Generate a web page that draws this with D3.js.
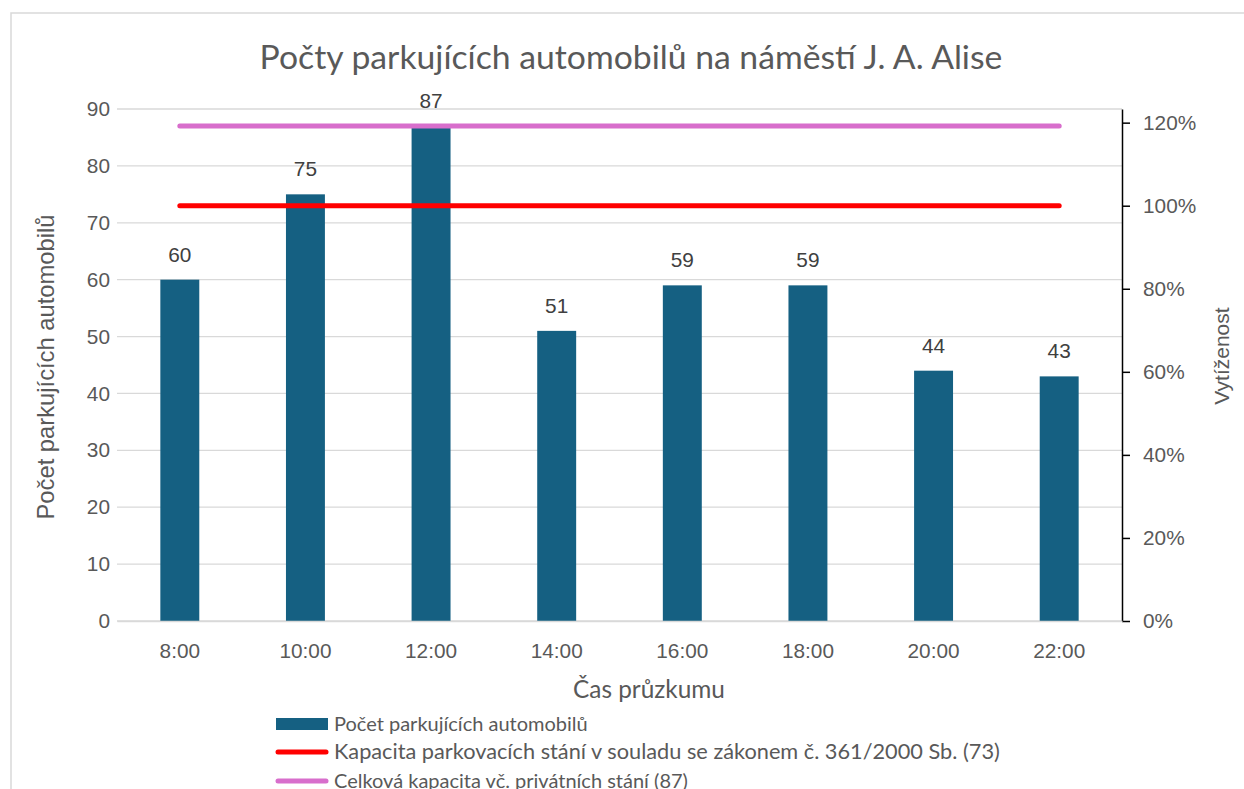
<!DOCTYPE html>
<html><head><meta charset="utf-8">
<script src="https://cdn.jsdelivr.net/npm/d3@7"></script>
<style>html,body{margin:0;padding:0;background:#fff;} svg{display:block;}</style>
</head><body>
<svg id="c" width="1244" height="789"></svg>
<script>
const categories = ["8:00","10:00","12:00","14:00","16:00","18:00","20:00","22:00"];
const counts = [60,75,87,51,59,59,44,43];
const legalCapacity = 73;
const totalCapacity = 87;
const leftTicks = [0,10,20,30,40,50,60,70,80,90];
const rightTicks = [0,0.2,0.4,0.6,0.8,1.0,1.2];
const title = "Počty parkujících automobilů na náměstí J. A. Alise";
const xTitle = "Čas průzkumu";
const yTitle = "Počet parkujících automobilů";
const y2Title = "Vytíženost";
const legendItems = [
  {label:"Počet parkujících automobilů", type:"bar"},
  {label:"Kapacita parkovacích stání v souladu se zákonem č. 361/2000 Sb. (73)", type:"legal"},
  {label:"Celková kapacita vč. privátních stání (87)", type:"total"}
];

const C = {bar:"#156082", legal:"#FF0000", total:"#D86ECC", text:"#595959", label:"#404040", grid:"#D9D9D9"};
const svg = d3.select("#c");
const L=117, R=1122, T=109, B=621;
const narrow = "Lato, 'Open Sans', sans-serif";
const arial = "'Liberation Sans', Arial, sans-serif";
const fs = "20.8px";

// chart frame
svg.append("rect").attr("x",11).attr("y",13).attr("width",1250).attr("height",800)
  .attr("fill","none").attr("stroke","#D9D9D9").attr("stroke-width",1.5);

const x = d3.scaleBand().domain(categories).range([L,R]).paddingInner(0.69).paddingOuter(0.345);
const y = d3.scaleLinear().domain([0,90]).range([B,T]);
const y2 = d3.scaleLinear().domain([0,90/legalCapacity]).range([B,T]);

// gridlines
svg.append("g").selectAll("line").data(leftTicks).join("line")
  .attr("x1",L).attr("x2",R).attr("y1",d=>y(d)).attr("y2",d=>y(d))
  .attr("stroke",C.grid).attr("stroke-width",1.3);

// left axis
const gl = svg.append("g").attr("transform",`translate(${L},0)`)
  .call(d3.axisLeft(y).tickValues(leftTicks).tickSize(0).tickPadding(7));
gl.select(".domain").remove();
gl.selectAll("text").attr("fill",C.text).style("font-family",arial).style("font-size",fs);

// right axis
const gr = svg.append("g").attr("transform",`translate(${R},0)`)
  .call(d3.axisRight(y2).tickValues(rightTicks).tickFormat(d3.format(".0%")).tickSize(8).tickSizeOuter(0).tickPadding(13));
gr.select(".domain").attr("stroke","#000").attr("stroke-width",1.5);
gr.selectAll("line").attr("stroke","#000").attr("stroke-width",1.5);
gr.selectAll("text").attr("fill",C.text).style("font-family",arial).style("font-size",fs);

// bars
svg.append("g").selectAll("rect").data(counts).join("rect")
  .attr("x",(d,i)=>x(categories[i])).attr("width",x.bandwidth())
  .attr("y",d=>y(d)).attr("height",d=>y(0)-y(d)).attr("fill",C.bar);

// data labels
svg.append("g").selectAll("text").data(counts).join("text")
  .attr("x",(d,i)=>x(categories[i])+x.bandwidth()/2).attr("y",d=>y(d)-18)
  .attr("text-anchor","middle").attr("fill",C.label)
  .style("font-family",arial).style("font-size",fs).text(d=>d);

// capacity lines
const line = d3.line().x(d=>x(d[0])+x.bandwidth()/2).y(d=>y(d[1]));
[[legalCapacity,C.legal],[totalCapacity,C.total]].forEach(([v,col])=>{
  svg.append("path").datum(categories.map(c=>[c,v])).attr("d",line)
    .attr("fill","none").attr("stroke",col).attr("stroke-width",5).attr("stroke-linecap","round");
});

// x axis
const gx = svg.append("g").attr("transform",`translate(0,${B})`)
  .call(d3.axisBottom(x).tickSize(0).tickPadding(22));
gx.select(".domain").attr("stroke",C.grid).attr("stroke-width",1.3);
gx.selectAll("text").attr("fill",C.text).style("font-family",arial).style("font-size",fs);

// titles
function fitText(sel, target){
  const w = sel.node().getComputedTextLength();
  const f = parseFloat(sel.style("font-size"));
  sel.style("font-size",(f*target/w)+"px");
}
const t = svg.append("text").attr("x",631).attr("y",69).attr("text-anchor","middle")
  .attr("fill",C.text).style("font-family",narrow).style("font-size","30px").text(title);
fitText(t,743);

const xt = svg.append("text").attr("x",649).attr("y",698).attr("text-anchor","middle")
  .attr("fill",C.text).style("font-family",narrow).style("font-size","22px").text(xTitle);
fitText(xt,152);

const yt = svg.append("text").attr("transform","translate(54,367) rotate(-90)").attr("text-anchor","middle")
  .attr("fill",C.text).style("font-family",arial).style("font-size","21px").text(yTitle);
fitText(yt,305);

svg.append("text").attr("transform","translate(1229,356) rotate(-90)").attr("text-anchor","middle")
  .attr("fill",C.text).style("font-family",arial).style("font-size","21px").text(y2Title);

// legend
const lg = svg.append("g");
const rowY = [724,752,781];
legendItems.forEach((it,i)=>{
  const cy = rowY[i];
  if(it.type==="bar"){
    lg.append("rect").attr("x",276).attr("y",cy-6).attr("width",52).attr("height",12).attr("fill",C.bar);
  } else {
    lg.append("line").attr("x1",278).attr("x2",326).attr("y1",cy).attr("y2",cy)
      .attr("stroke",it.type==="legal"?C.legal:C.total).attr("stroke-width",5).attr("stroke-linecap","round");
  }
  const tx = lg.append("text").attr("x",334).attr("y",cy+7).attr("fill",C.text)
    .style("font-family",narrow).style("font-size","20px").text(it.label);
  if(i===1) fitText(tx,666);
});
</script>
</body></html>
